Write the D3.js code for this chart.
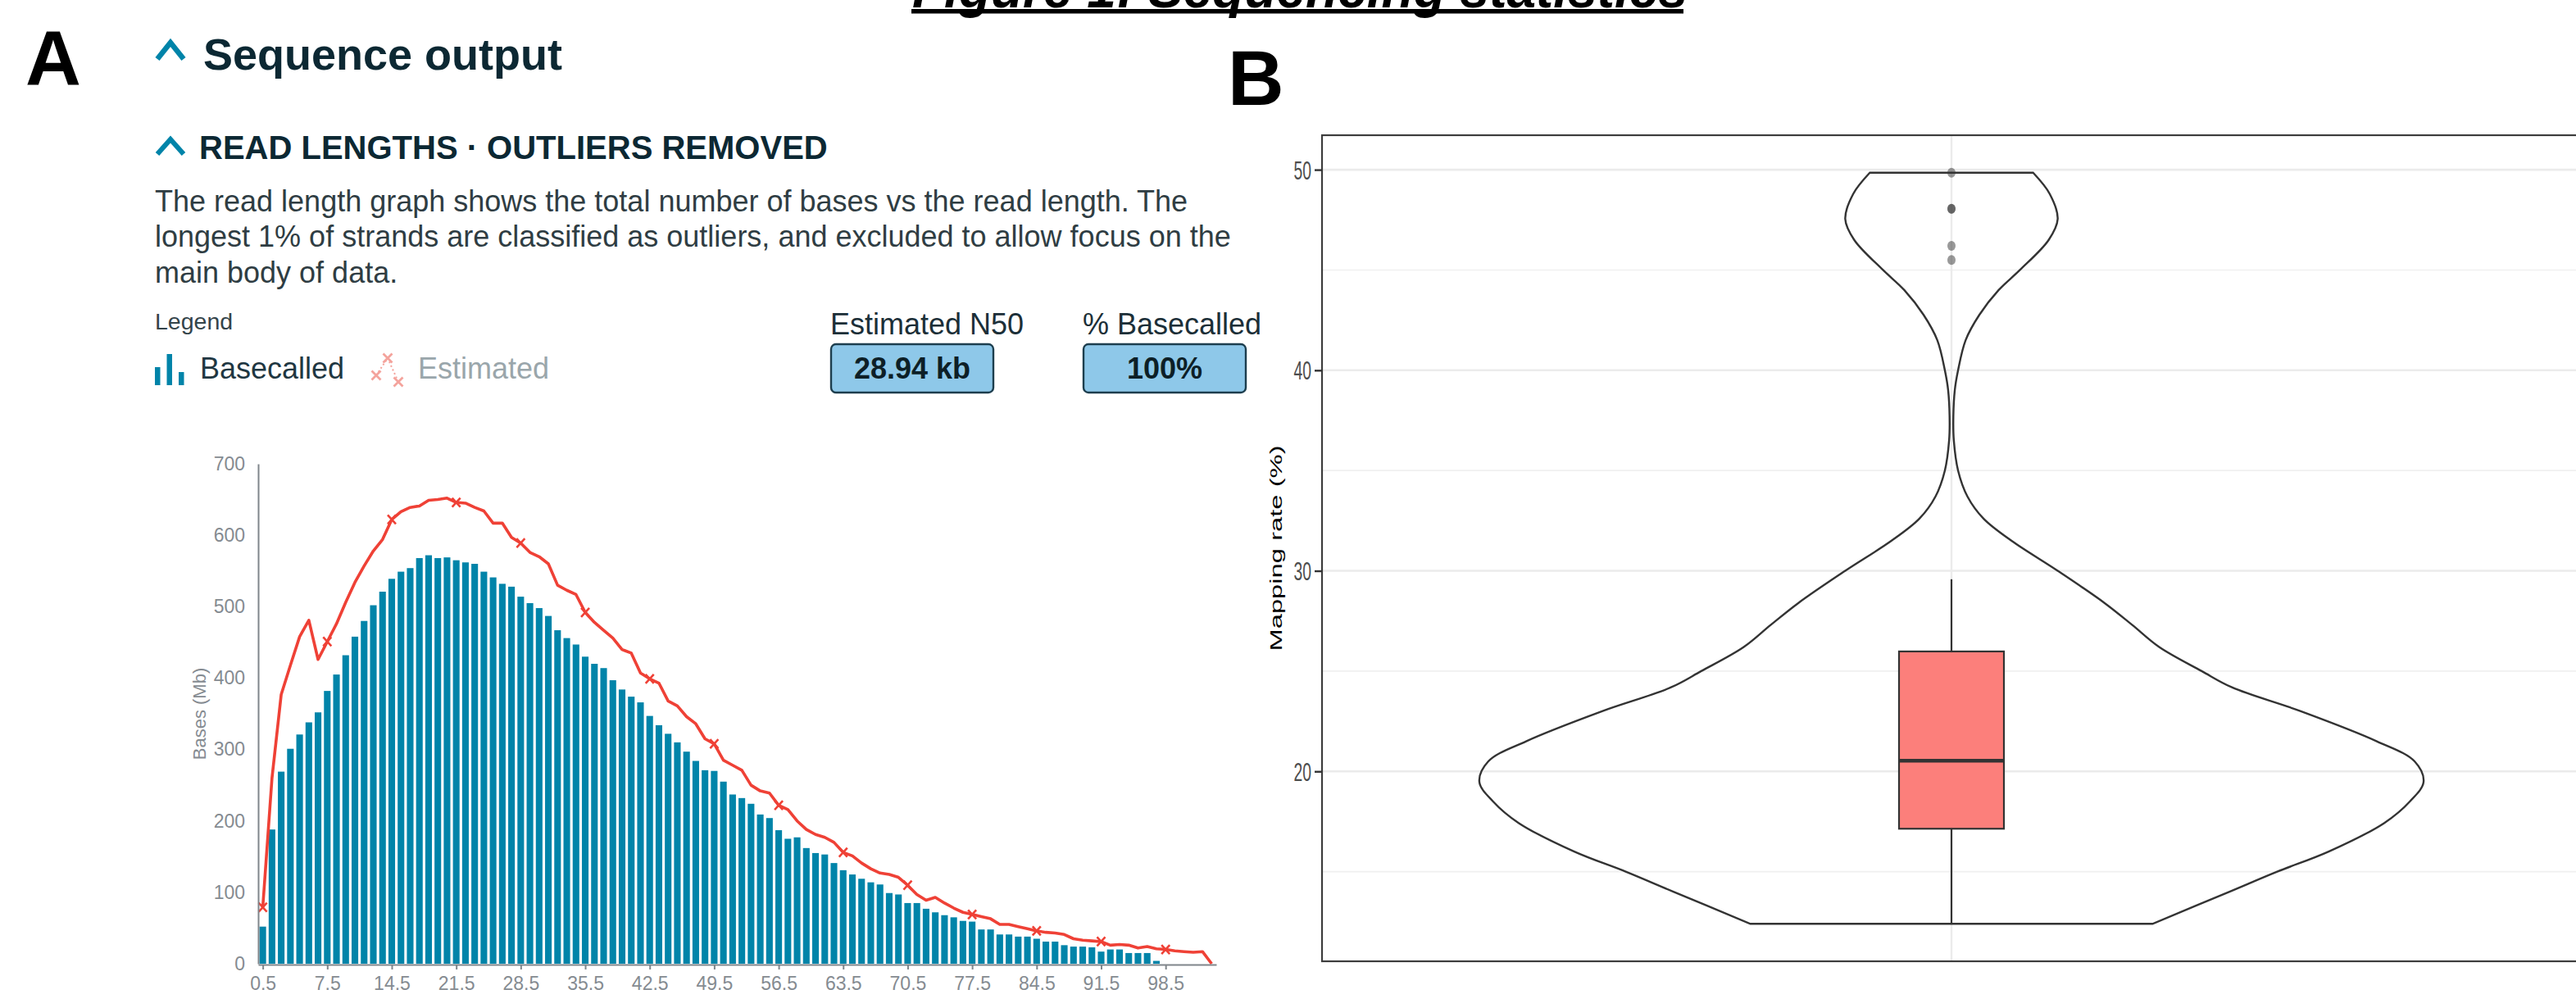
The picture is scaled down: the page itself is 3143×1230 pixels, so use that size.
<!DOCTYPE html>
<html>
<head>
<meta charset="utf-8">
<title>Figure 1: Sequencing statistics</title>
<script src="https://cdn.jsdelivr.net/npm/d3@7"></script>
<style>
  body { margin: 0; background: #fff; }
  svg { display: block; font-family: "Liberation Sans", Arial, Helvetica, sans-serif; }
</style>
</head>
<body>
<div id="container"></div>
<script>
/* CONSTANTS AND GLOBALS */
const width = 3143;
const height = 1230;

/* DATA */
// Panel A - read length histogram, 1 kb bins starting at 0.5 kb, bases in Mb
const basecalledMb = [52, 188, 269, 301, 321, 338, 352, 382, 405, 432,
  458, 480, 502, 521, 539, 549, 554, 568, 572, 568,
  569, 565, 562, 560, 549, 541, 532, 528, 514, 505,
  498, 487, 467, 456, 447, 430, 420, 414, 397, 384,
  374, 366, 347, 334, 322, 310, 297, 284, 271, 270,
  255, 237, 232, 224, 209, 204, 187, 175, 177, 162,
  155, 153, 141, 131, 125, 119, 114, 111, 99, 97,
  85, 85, 77, 72, 68, 65, 60, 59, 48, 48,
  41, 41, 38, 38, 35, 31, 31, 26, 24, 24,
  23, 17, 20, 20, 15, 15, 15, 4];
const estimatedMb = [79, 260, 377, 418, 458, 481, 426, 451, 476, 506,
  534, 557, 578, 594, 622, 633, 639, 641, 649, 650,
  652, 646, 645, 639, 634, 617, 617, 597, 589, 576,
  570, 560, 530, 523, 517, 492, 478, 467, 456, 440,
  435, 407, 399, 393, 368, 361, 346, 336, 315, 308,
  285, 278, 271, 250, 242, 239, 222, 216, 200, 188,
  181, 177, 170, 156, 151, 141, 133, 127, 125, 121,
  110, 97, 89, 93, 85, 78, 72, 69, 66, 63,
  55, 55, 52, 49, 46, 44, 43, 41, 35, 33,
  32, 31, 26, 27, 26, 22, 24, 21, 20, 18,
  17, 16, 17, 0];
const lengthTicks = [0.5, 7.5, 14.5, 21.5, 28.5, 35.5, 42.5, 49.5, 56.5, 63.5, 70.5, 77.5, 84.5, 91.5, 98.5];
const basesTicks = [0, 100, 200, 300, 400, 500, 600, 700];
const summaryTitles = ["Estimated N50", "% Basecalled"];
const summaryValues = ["28.94 kb", "100%"];
const introLines = [
  "The read length graph shows the total number of bases vs the read length. The",
  "longest 1% of strands are classified as outliers, and excluded to allow focus on the",
  "main body of data."
];

// Panel B - mapping rate violin + boxplot
const violinRate = [49.85, 48.8, 47.54, 46.5, 45, 44, 42.76, 41.5, 40, 39, 37.7, 36.5, 35, 33.7, 32.6, 31.5, 30,
  28.4, 27.3, 26.2, 25, 24.18, 23, 21.5, 20.5, 19.47, 18.5, 17.43, 16, 15, 14, 12.4];
const violinDensity = [0.173, 0.208, 0.225, 0.206, 0.145, 0.1, 0.059, 0.03, 0.014, 0.007, 0.004, 0.005, 0.014, 0.034, 0.068, 0.127, 0.225,
  0.324, 0.383, 0.44, 0.53, 0.595, 0.74, 0.901, 0.981, 1, 0.971, 0.917, 0.799, 0.69, 0.589, 0.426];
const rateQuartiles = [17.14, 20.53, 25.98];
const rateWhiskers = [12.4, 29.58];
const rateOutliers = [49.85, 48.05, 48.05, 46.2, 45.5];
const rateMajorTicks = [20, 30, 40, 50];
const rateMinorTicks = [15, 25, 35, 45];

const teal = "#0084a9";
const red = "#ef4136";
const navy = "#0c2833";

const svg = d3.select("#container")
  .append("svg")
  .attr("width", width)
  .attr("height", height);

/* FIGURE TITLE (cut at the top, as in the source) */
svg.append("text")
  .attr("x", 1113).attr("y", 8.5)
  .style("font-size", "64px").style("font-weight", "bold").style("font-style", "italic")
  .attr("fill", "#000")
  .text("Figure 1: Sequencing statistics");
svg.append("line")
  .attr("x1", 1112).attr("x2", 2054).attr("y1", 13.8).attr("y2", 13.8)
  .attr("stroke", "#000").attr("stroke-width", 5.5);

// panel letters
svg.append("text").attr("x", 31).attr("y", 104)
  .style("font-size", "94px").style("font-weight", "bold").text("A");
svg.append("text").attr("x", 1498).attr("y", 128)
  .style("font-size", "95px").style("font-weight", "bold").text("B");

/* PANEL A HEADER */
const chevron = (g, x, y, w, h, sw) => g.append("path")
  .attr("d", `M${x},${y + h}L${x + w / 2},${y}L${x + w},${y + h}`)
  .attr("fill", "none").attr("stroke", teal).attr("stroke-width", sw);

chevron(svg, 192, 52, 32, 20, 6.5);
svg.append("text").attr("x", 248).attr("y", 85)
  .style("font-size", "54px").style("font-weight", "bold").attr("fill", navy)
  .text("Sequence output");

chevron(svg, 192, 170, 32, 18, 6);
svg.append("text").attr("x", 243).attr("y", 194)
  .style("font-size", "40px").style("font-weight", "bold").attr("fill", navy)
  .text("READ LENGTHS \u00b7 OUTLIERS REMOVED");

svg.selectAll("text.intro")
  .data(introLines)
  .join("text")
  .attr("class", "intro")
  .attr("x", 189)
  .attr("y", (d, i) => 258 + i * 43.4)
  .style("font-size", "36px")
  .attr("fill", "#2f3d43")
  .text(d => d);

// legend
svg.append("text").attr("x", 189).attr("y", 401.5)
  .style("font-size", "28.5px").attr("fill", "#34444a").text("Legend");

const legBars = svg.append("g").attr("transform", "translate(189,470)");
legBars.selectAll("rect")
  .data([22, 38, 16])
  .join("rect")
  .attr("x", (d, i) => i * 14.5)
  .attr("y", d => -d)
  .attr("width", 6.5)
  .attr("height", d => d)
  .attr("fill", teal);
svg.append("text").attr("x", 244).attr("y", 461.5)
  .style("font-size", "36px").attr("fill", "#1f3742").text("Basecalled");

const legEst = svg.append("g").attr("transform", "translate(459,458)");
const legPts = [[0, 0], [14, -21], [27, 8]];
legEst.append("path")
  .attr("d", d3.line()(legPts))
  .attr("fill", "none").attr("stroke", "#f4a39c").attr("stroke-width", 2)
  .attr("stroke-dasharray", "2,3");
legEst.selectAll("path.mk")
  .data(legPts)
  .join("path")
  .attr("class", "mk")
  .attr("transform", d => `translate(${d[0]},${d[1]})`)
  .attr("d", "M-5.5,-5.5L5.5,5.5M-5.5,5.5L5.5,-5.5")
  .attr("stroke", "#f4a39c").attr("stroke-width", 2.8);
svg.append("text").attr("x", 510).attr("y", 461.5)
  .style("font-size", "36px").attr("fill", "#9aa6ab").text("Estimated");

// summary boxes
const summary = svg.selectAll("g.summary")
  .data(summaryTitles)
  .join("g")
  .attr("class", "summary")
  .attr("transform", (d, i) => `translate(${1013 + i * 308},0)`);
summary.append("text").attr("x", 0).attr("y", 408)
  .style("font-size", "36px").attr("fill", "#1c2f38").text(d => d);
summary.append("rect")
  .attr("x", 1).attr("y", 420).attr("width", 198).attr("height", 59).attr("rx", 6)
  .attr("fill", "#8ec8e9").attr("stroke", "#1d3e4e").attr("stroke-width", 2.4);
summary.append("text")
  .attr("x", 100).attr("y", 461.5).attr("text-anchor", "middle")
  .style("font-size", "36px").style("font-weight", "bold").attr("fill", "#0d1f27")
  .text((d, i) => summaryValues[i]);

/* PANEL A CHART */
const xA = d3.scaleLinear().domain([0, 104]).range([315, 1484]);
const yA = d3.scaleLinear().domain([0, 700]).range([1176, 566]);
const barW = (xA(1) - xA(0)) * 0.72;

const basecalled = basecalledMb.map((v, i) => ({ len: 0.5 + i, mb: v }));
const estimated = estimatedMb.map((v, i) => ({ len: 0.5 + i, mb: v }));

svg.append("g")
  .selectAll("rect")
  .data(basecalled)
  .join("rect")
  .attr("x", d => xA(d.len) - barW / 2)
  .attr("y", d => yA(d.mb))
  .attr("width", barW)
  .attr("height", d => yA(0) - yA(d.mb))
  .attr("fill", teal);

svg.append("path")
  .datum(estimated)
  .attr("d", d3.line().x(d => xA(d.len)).y(d => yA(d.mb)))
  .attr("fill", "none")
  .attr("stroke", red)
  .attr("stroke-width", 3.6)
  .attr("stroke-linejoin", "round");

svg.append("g")
  .selectAll("path")
  .data(estimated.filter((d, i) => i % 7 === 0))
  .join("path")
  .attr("transform", d => `translate(${xA(d.len)},${yA(d.mb)})`)
  .attr("d", "M-5,-5.5L5,5.5M-5,5.5L5,-5.5")
  .attr("stroke", red).attr("stroke-width", 2.6);

// axes
const axA_y = svg.append("g")
  .attr("transform", `translate(${xA(0)},0)`)
  .call(d3.axisLeft(yA).tickValues(basesTicks).tickSize(0).tickSizeOuter(0).tickPadding(16));
const axA_x = svg.append("g")
  .attr("transform", `translate(0,${yA(0) + 1})`)
  .call(d3.axisBottom(xA).tickValues(lengthTicks).tickSize(6).tickSizeOuter(0).tickPadding(9)
    .tickFormat(d3.format(".1f")));
[axA_y, axA_x].forEach(ax => {
  ax.select(".domain").attr("stroke", "#80868b").attr("stroke-width", 2);
  ax.selectAll(".tick line").attr("stroke", "#80868b").attr("stroke-width", 2);
  ax.selectAll("text")
    .style("font-size", "23px")
    .style("font-family", "'Liberation Sans', Arial, sans-serif")
    .attr("fill", "#858b91");
});
svg.append("text")
  .attr("transform", `translate(251,${(yA(0) + yA(700)) / 2}) rotate(-90)`)
  .attr("text-anchor", "middle")
  .style("font-size", "22px")
  .attr("fill", "#858b91")
  .text("Bases (Mb)");

/* PANEL B CHART */
const xB = d3.scaleLinear().domain([0.4, 1.6]).range([1613, 3149]);
const yB = d3.scaleLinear().domain([10.53, 51.72]).range([1173, 165]);
const wB = d3.scaleLinear().domain([0, 1]).range([0, xB(1.45) - xB(1)]);
const stretch = 1.59;

const panelB = svg.append("g");

panelB.selectAll("line.minor")
  .data(rateMinorTicks)
  .join("line")
  .attr("class", "minor")
  .attr("x1", xB(0.4)).attr("x2", xB(1.6))
  .attr("y1", d => yB(d)).attr("y2", d => yB(d))
  .attr("stroke", "#f0f0f0").attr("stroke-width", 1.6);
panelB.selectAll("line.major")
  .data(rateMajorTicks)
  .join("line")
  .attr("class", "major")
  .attr("x1", xB(0.4)).attr("x2", xB(1.6))
  .attr("y1", d => yB(d)).attr("y2", d => yB(d))
  .attr("stroke", "#ebebeb").attr("stroke-width", 2.6);
panelB.append("line")
  .attr("x1", xB(1)).attr("x2", xB(1))
  .attr("y1", yB(51.72)).attr("y2", yB(10.53))
  .attr("stroke", "#ebebeb").attr("stroke-width", 2.4);

const violin = violinRate.map((r, i) => ({ rate: r, dens: violinDensity[i] }));
panelB.append("path")
  .datum(violin)
  .attr("d", d3.area()
    .y(d => yB(d.rate))
    .x0(d => xB(1) - wB(d.dens))
    .x1(d => xB(1) + wB(d.dens))
    .curve(d3.curveCatmullRom.alpha(0.5)))
  .attr("fill", "none")
  .attr("stroke", "#333")
  .attr("stroke-width", 2.4);

// boxplot
const boxHalf = 0.05;
panelB.append("line")
  .attr("x1", xB(1)).attr("x2", xB(1))
  .attr("y1", yB(rateQuartiles[2])).attr("y2", yB(rateWhiskers[1]))
  .attr("stroke", "#333").attr("stroke-width", 2.2);
panelB.append("line")
  .attr("x1", xB(1)).attr("x2", xB(1))
  .attr("y1", yB(rateQuartiles[0])).attr("y2", yB(rateWhiskers[0]))
  .attr("stroke", "#333").attr("stroke-width", 2.2);
panelB.append("rect")
  .attr("x", xB(1 - boxHalf))
  .attr("y", yB(rateQuartiles[2]))
  .attr("width", xB(1 + boxHalf) - xB(1 - boxHalf))
  .attr("height", yB(rateQuartiles[0]) - yB(rateQuartiles[2]))
  .attr("fill", "#fc7f7b")
  .attr("stroke", "#333").attr("stroke-width", 2.2);
panelB.append("line")
  .attr("x1", xB(1 - boxHalf)).attr("x2", xB(1 + boxHalf))
  .attr("y1", yB(rateQuartiles[1])).attr("y2", yB(rateQuartiles[1]))
  .attr("stroke", "#333").attr("stroke-width", 4.5);
panelB.selectAll("ellipse")
  .data(rateOutliers)
  .join("ellipse")
  .attr("cx", xB(1)).attr("cy", d => yB(d))
  .attr("rx", 5).attr("ry", 6)
  .attr("fill", "#333").attr("fill-opacity", 0.5);

// border
panelB.append("rect")
  .attr("x", xB(0.4)).attr("y", yB(51.72))
  .attr("width", xB(1.6) - xB(0.4)).attr("height", yB(10.53) - yB(51.72))
  .attr("fill", "none").attr("stroke", "#3d3d3d").attr("stroke-width", 2.2);

const axB = panelB.append("g")
  .attr("transform", `translate(${xB(0.4)},0)`)
  .call(d3.axisLeft(yB).tickValues(rateMajorTicks).tickSize(9).tickSizeOuter(0).tickPadding(4));
axB.select(".domain").remove();
axB.selectAll(".tick line").attr("stroke", "#333").attr("stroke-width", 2.4);
axB.selectAll("text")
  .attr("dy", "0.36em")
  .attr("transform", `scale(1,${stretch})`)
  .style("font-size", "19.3px")
  .style("font-family", "'Liberation Sans', Arial, sans-serif")
  .attr("fill", "#4d4d4d");

svg.append("text")
  .attr("transform", `translate(1564,${(yB(10.53) + yB(51.72)) / 2}) scale(1,${stretch}) rotate(-90)`)
  .attr("text-anchor", "middle")
  .style("font-size", "20.6px")
  .attr("fill", "#000")
  .text("Mapping rate (%)");
</script>
</body>
</html>
